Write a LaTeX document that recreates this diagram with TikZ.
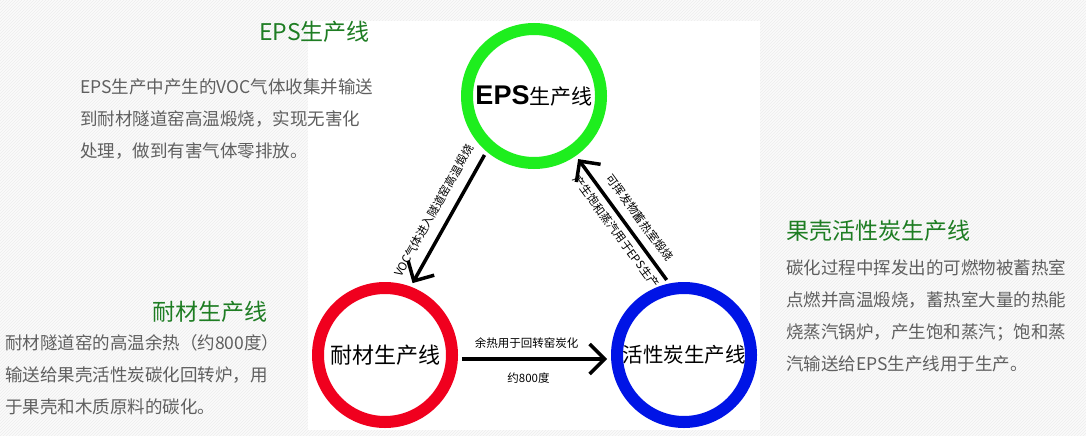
\documentclass[tikz,border=0pt]{standalone}
\usepackage{fontspec}
\setmainfont{Liberation Sans}
\newfontfamily\cjk{Noto Sans CJK SC}
\newfontfamily\arialf{Liberation Sans}
\usetikzlibrary{arrows.meta,patterns}
\definecolor{titlegreen}{RGB}{30,125,35}
\definecolor{bodygray}{RGB}{95,95,95}
\definecolor{ringgreen}{RGB}{30,238,30}
\definecolor{ringred}{RGB}{240,0,30}
\definecolor{ringblue}{RGB}{0,20,230}
\begin{document}
\begin{tikzpicture}[x=1pt,y=-1pt,
  ring/.style={circle, minimum size=134pt, line width=12pt, outer sep=10pt, inner sep=0pt, fill=white},
  flow/.style={line width=3.5pt, -{Straight Barb[length=15pt,width=30pt]}},
  flowback/.style={line width=3.5pt, {Straight Barb[length=15pt,width=30pt]}-},
  lbl/.style={font=\cjk\fontsize{11.5}{12}\selectfont, inner sep=0pt},
  title/.style={font=\cjk\fontsize{23}{25}\selectfont, text=titlegreen, inner sep=0pt},
  body/.style={font=\cjk\fontsize{17.5}{32}\selectfont, text=bodygray, align=left, inner sep=0pt}]
\useasboundingbox (0,0) rectangle (1086,436);
\fill[gray!3] (0,0) rectangle (1086,436);
\fill[pattern=north east lines, pattern color=gray!14] (0,0) rectangle (1086,436);
\fill[white] (308,21) rectangle (760,430);

% circles
\node[ring, draw=ringgreen] (eps) at (534,96) {{\arialf\bfseries\fontsize{27}{27}\selectfont EPS}{\cjk\fontsize{21}{21}\selectfont 生产线}};
\node[ring, draw=ringred] (nai) at (385,355) {\cjk\fontsize{22}{22}\selectfont 耐材生产线};
\node[ring, draw=ringblue] (huo) at (684,355) {\cjk\fontsize{20.5}{21}\selectfont 活性炭生产线};

% connectors
\draw[flow] (eps.230) -- node[lbl, sloped, above=10pt] {VOC气体进入隧道窑高温煅烧} (nai.69);
\draw[flowback] (eps.-55) -- node[lbl, sloped, above=8pt, pos=0.56] {可挥发物蓄热室煅烧} node[lbl, sloped, below=5pt, pos=0.54] {产生饱和蒸汽用于EPS生产} (huo.103);
\draw[flow] (nai.-3.6) -- node[lbl, above=9pt, xshift=-8pt] {余热用于回转窑炭化} node[lbl, below=12pt, xshift=-6pt] {约800度} (huo.183.8);

% side texts
\node[title, anchor=east] (t1) at (370,32) {EPS生产线};
\node[body, anchor=west] (p1) at (80,119) {EPS生产中产生的VOC气体收集并输送\\到耐材隧道窑高温煅烧，实现无害化\\处理，做到有害气体零排放。};
\node[title, anchor=west] (t2) at (786,231) {果壳活性炭生产线};
\node[body, anchor=west] (p2) at (786,316) {碳化过程中挥发出的可燃物被蓄热室\\点燃并高温煅烧，蓄热室大量的热能\\烧蒸汽锅炉，产生饱和蒸汽；饱和蒸\\汽输送给EPS生产线用于生产。};
\node[title, anchor=east] (t3) at (268,312) {耐材生产线};
\node[body, anchor=west] (p3) at (5,375) {耐材隧道窑的高温余热（约800度）\\输送给果壳活性炭碳化回转炉，用\\于果壳和木质原料的碳化。};
\end{tikzpicture}
\end{document}
